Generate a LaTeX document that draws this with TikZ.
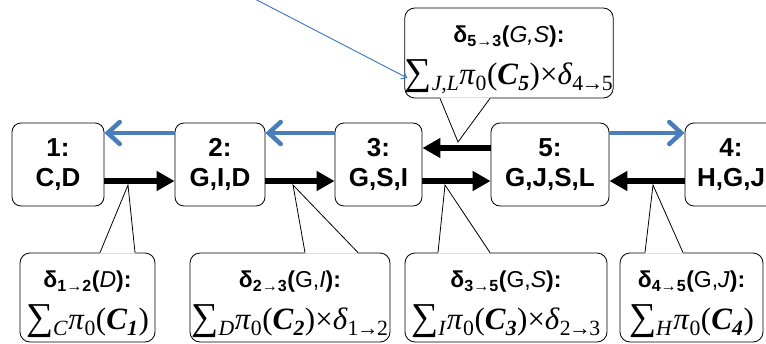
\documentclass[tikz,border=0pt]{standalone}
\usepackage{fontspec}
\setsansfont{Liberation Sans}
\newfontfamily\tms{Liberation Serif}
\usepackage{tikz}
\usetikzlibrary{positioning,arrows.meta,calc}
\definecolor{linkblue}{RGB}{74,126,187}
\newcommand{\msg}[3]{\rule{0pt}{30pt}δ\textsubscript{#1→#2}(#3):}
\newcommand{\fml}[1]{{\tms\mdseries\upshape\fontsize{31}{42}\selectfont #1}}
\newcommand{\sumover}[1]{{\fontsize{38}{38}\selectfont ∑}\textsubscript{\textit{#1}}}
\newcommand{\pot}[1]{\textit{π}\textsubscript{0}(\textbf{\textit{C}}\textsubscript{\textbf{\textit{#1}}})}
\newcommand{\dlt}[2]{×\textit{δ}\textsubscript{#1\kern-1.5pt→\kern-1.5pt#2}}

\begin{document}
\begin{tikzpicture}[x=1pt, y=-1pt,
  clique/.style={draw, line width=0.8pt, rounded corners=9pt, fill=white, align=center, inner sep=0pt,
    font=\sffamily\bfseries\fontsize{26}{30}\selectfont, minimum height=83pt},
  callout/.style={draw, line width=0.8pt, rounded corners=10pt, fill=white, align=center, inner sep=0pt,
    font=\sffamily\bfseries\fontsize{23}{42}\selectfont, minimum height=89pt},
  fwd/.style={line width=6.5pt, -{Triangle[length=18pt, width=19pt]}},
  back/.style={line width=4.5pt, color=linkblue, -{Straight Barb[length=12pt, width=22pt, line cap=round]}},
  ptr/.style={line width=0.8pt}]
  \useasboundingbox (0,0) rectangle (766,343);

  % messages (callouts)
  \node[callout, minimum width=135pt] (m12) at (87.5,297.5)
    {\msg{1}{2}{\textmd{\textit{D}}}\\ \fml{\sumover{C}\pot{1}}};
  \node[callout, minimum width=200pt] (m23) at (290,297.5)
    {\msg{2}{3}{\textmd{G,\textit{I}}}\\ \fml{\sumover{D}\pot{2}\dlt{1}{2}}};
  \node[callout, minimum width=202pt] (m35) at (506,297.5)
    {\msg{3}{5}{\textmd{G,\textit{S}}}\\ \fml{\sumover{I}\pot{3}\dlt{2}{3}}};
  \node[callout, minimum width=143pt] (m45) at (691.5,297.5)
    {\msg{4}{5}{\textmd{G,\textit{J}}}\\ \fml{\sumover{H}\pot{4}}};
  \node[callout, minimum width=208pt, minimum height=90pt] (m53) at (509,53)
    {\msg{5}{3}{\textmd{\textit{G,S}}}\\ \fml{\sumover{J,L}\pot{5}\dlt{4}{5}}};

  % pointers
  \coordinate (t12) at (128,185);
  \coordinate (t23) at (293,185);
  \coordinate (t35) at (445,185);
  \coordinate (t45) at (653,185);
  \coordinate (t53) at (458,142);
  \fill[white] (t12) -- ($(m12.north)+(12.5,1)$) -- ($(m12.north)+(47.5,1)$) -- cycle;
  \draw[ptr] ($(m12.north)+(12.5,0)$) -- (t12) -- ($(m12.north)+(47.5,0)$);
  \fill[white] (t23) -- ($(m23.north)+(15,1)$) -- ($(m23.north)+(68,1)$) -- cycle;
  \draw[ptr] ($(m23.north)+(15,0)$) -- (t23) -- ($(m23.north)+(68,0)$);
  \fill[white] (t35) -- ($(m35.north)+(-68,1)$) -- ($(m35.north)+(-16,1)$) -- cycle;
  \draw[ptr] ($(m35.north)+(-68,0)$) -- (t35) -- ($(m35.north)+(-16,0)$);
  \fill[white] (t45) -- ($(m45.north)+(-46.5,1)$) -- ($(m45.north)+(-8.5,1)$) -- cycle;
  \draw[ptr] ($(m45.north)+(-46.5,0)$) -- (t45) -- ($(m45.north)+(-8.5,0)$);
  \fill[white] (t53) -- ($(m53.south)+(-69,-1)$) -- ($(m53.south)+(-19,-1)$) -- cycle;
  \draw[ptr] ($(m53.south)+(-69,0)$) -- (t53) -- ($(m53.south)+(-19,0)$);

  % cliques
  \node[clique, minimum width=92pt] (c1) at (58,164.5) {1:\\C,D};
  \node[clique, minimum width=90pt] (c2) at (220,164.5) {2:\\G,I,D};
  \node[clique, minimum width=87pt] (c3) at (378.5,164.5) {3:\\G,S,I};
  \node[clique, minimum width=118pt] (c5) at (550,164.5) {5:\\G,J,S,L};
  \node[clique, minimum width=92pt] (c4) at (731,164.5) {4:\\H,G,J};

  \draw[fwd] ($(c1.east)+(0,16.5)$) -- ($(c2.west)+(0,16.5)$);
  \draw[fwd] ($(c2.east)+(0,16.5)$) -- ($(c3.west)+(0,16.5)$);
  \draw[fwd] ($(c3.east)+(0,16.5)$) -- ($(c5.west)+(0,16.5)$);
  \draw[fwd] ($(c4.west)+(0,16.5)$) -- ($(c5.east)+(0,16.5)$);
  \draw[fwd] ($(c5.west)+(0,-16.5)$) -- ($(c3.east)+(0,-16.5)$);
  \draw[back] ($(c2.west)+(0,-31.5)$) -- ($(c1.east)+(0,-31.5)$);
  \draw[back] ($(c3.west)+(0,-31.5)$) -- ($(c2.east)+(0,-31.5)$);
  \draw[back] ($(c5.east)+(0,-31.5)$) -- ($(c4.west)+(0,-31.5)$);

  \coordinate (src) at (253,-2);
  \draw[linkblue, line width=1pt, -{Straight Barb[length=5pt, width=8pt]}] (src) -- ($(m53.west)+(3,25)$);
\end{tikzpicture}
\end{document}
